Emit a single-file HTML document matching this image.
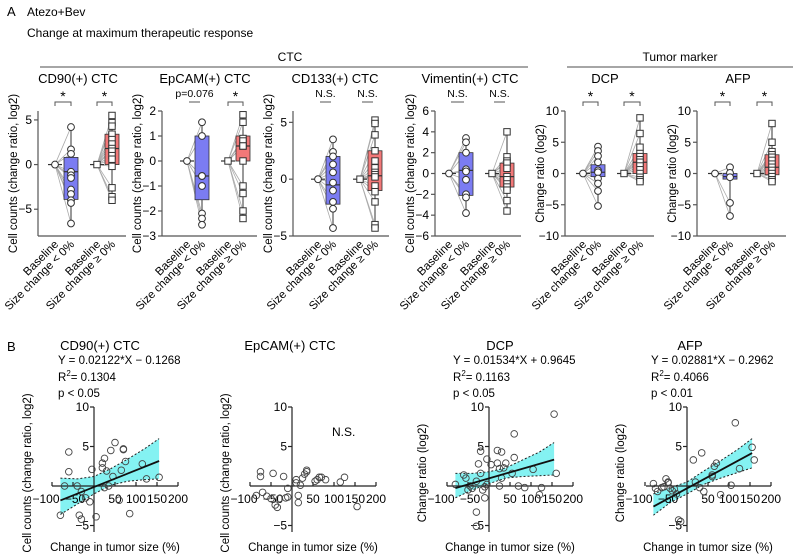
<!DOCTYPE html>
<html><head><meta charset="utf-8"><style>
body{margin:0;background:#fff}
svg{display:block;font-family:"Liberation Sans",Arial,sans-serif}
</style></head><body>
<svg id="fig" width="793" height="557" viewBox="0 0 793 557">
<text x="7" y="16" font-size="13">A</text>
<text x="27" y="16" font-size="12">Atezo+Bev</text>
<text x="27" y="37" font-size="12">Change at maximum therapeutic response</text>
<text x="290" y="61" font-size="12" text-anchor="middle">CTC</text>
<line x1="40" y1="67" x2="528" y2="67" stroke="#888" stroke-width="1.5"/>
<text x="680" y="61" font-size="12" text-anchor="middle">Tumor marker</text>
<line x1="567" y1="67" x2="793" y2="67" stroke="#888" stroke-width="1.5"/>
<text x="7" y="351" font-size="13">B</text>
</svg>
<script>
// ---- Panel A data ----
const groupLabels = ["Baseline","Size change < 0%","Baseline","Size change \u2265 0%"];
const panelTitles = ["CD90(+) CTC","EpCAM(+) CTC","CD133(+) CTC","Vimentin(+) CTC","DCP","AFP"];
const panelSig1 = ["*","p=0.076","N.S.","N.S.","*","*"];
const panelSig2 = ["*","*","N.S.","N.S.","*","*"];
const cd90G1 = [4.2,1.7,1.2,-0.8,-1.2,-1.5,-2.8,-3.3,-4,-4.3,-6.6];
const cd90G2 = [5.5,4.7,4.3,3.4,2.8,2.3,1.8,1.5,1,0.6,-0.2,-2.6,-3.6,-4];
const epcamG1 = [1.55,1,-0.6,-0.6,-1,-2.1,-2.3,-2.55];
const epcamG2 = [1.85,1.55,0.9,0.8,0.6,0.6,0,-1,-1.3,-2,-2.3];
const cd133G1 = [3.5,2.4,2,1.3,0.6,-0.3,-1,-2,-2.6,-4.3];
const cd133G2 = [5.2,4.9,3.9,2.5,1.6,1,0.6,0.4,0.2,-0.6,-1.1,-2,-4,-4.3];
const vimG1 = [3.4,3,2,0.4,0.2,-0.6,-2,-2.3,-3.8];
const vimG2 = [4,1.6,1.2,1,0.5,-0.3,-0.6,-1,-1.3,-1.6,-2.6,-3.6];
const dcpG1 = [4.3,3.6,2.8,1.8,0.5,0.2,-0.8,-1.6,-2.8,-5.2];
const dcpG2 = [8.9,6.4,4.2,3.2,2.7,2.2,1.8,1.2,0.6,0,-0.6,-1,-1.3];
const afpG1 = [1,0.1,-0.6,-4.7,-6.8];
const afpG2 = [8,5,3.5,3,2.6,2.1,1.5,1,0.5,0,-0.5,-1,-1.3];
// box stats [q1, median, q3]
const cd90Box = [[-3.9,-0.8,0.8],[0,1.8,3.4]];
const epcamBox = [[-1.55,-0.6,1],[0,0.6,1]];
const cd133Box = [[-2.2,-0.5,2],[-1,0.3,2.5]];
const vimBox = [[-2.1,0.3,2],[-1.3,-0.3,1]];
const dcpBox = [[-0.5,0.2,1.4],[0,1.8,3.2]];
const afpBox = [[-0.9,-0.5,0],[-0.2,1,3]];
const yRanges = [[-8,6],[-3,2],[-5,6],[-6,6],[-10,10],[-10,10]];
const yTicksA = [[5,0,-5],[2,1,0,-1,-2,-3],[5,0,-5],[6,4,2,0,-2,-4,-6],[10,5,0,-5,-10],[10,5,0,-5,-10]];
const yTitlesA = ["Cell counts (change ratio, log2)","Cell counts (change ratio, log2)","Cell counts (change ratio, log2)","Cell counts (change ratio, log2)","Change ratio (log2)","Change ratio (log2)"];

// ---- Panel B data ----
const bTitles = ["CD90(+) CTC","EpCAM(+) CTC","DCP","AFP"];
const bEq = ["Y = 0.02122*X \u2212 0.1268","","Y = 0.01534*X + 0.9645","Y = 0.02881*X \u2212 0.2962"];
const bR2 = ["0.1304","","0.1163","0.4066"];
const bP = ["p < 0.05","","p < 0.05","p < 0.01"];
const bSlope = [0.02122,null,0.01534,0.02881];
const bIntercept = [-0.1268,null,0.9645,-0.2962];
const bandX = [-80,-40,0,40,80,120,155];
const cd90Upper = [1.0,0.9,1.2,2.2,3.4,4.7,6.0];
const cd90Lower = [-3.6,-2.3,-1.0,0.1,0.6,0.8,0.9];
const dcpUpper = [1.6,1.6,1.8,2.3,3.3,4.3,5.5];
const dcpLower = [-1.5,-0.5,0.3,1.0,1.2,1.3,1.4];
const afpUpper = [-1.0,-0.2,0.5,1.9,3.2,4.6,6.0];
const afpLower = [-3.7,-2.1,-1.0,0.2,1.0,1.7,2.3];
const cd90X = [-80,-60,-60,-70,-40,-30,-35,-30,-20,-10,-5,5,20,25,20,30,25,35,40,45,50,60,70,70,75,65,85,115,125,155];
const cd90Y = [-3.7,4.3,1.8,0,0,-0.7,-3.7,-4.2,-1.5,-2,2.1,-3.9,2.9,3.5,2.3,1.9,-0.2,0,4.5,1.2,5.5,-1.8,4.6,4.7,3.1,2,-3.5,2.8,0.9,1.1];
const epcamX = [-75,-75,-70,-85,-60,-50,-40,-35,-45,-30,-15,-20,-10,10,10,15,15,20,25,30,35,35,55,60,65,70,80,115,125,155,-10];
const epcamY = [1.8,1.2,-0.8,-1.2,-1.3,-1.6,-2.4,-2.7,1.6,-1.6,-1.5,1.2,-1.4,0.8,0.4,-1.2,-2.1,0.1,1,1.5,2,1.8,0.6,0.8,1.1,1.1,0.8,0.5,1.1,-2.6,-0.3];
const dcpX = [-80,-60,-55,-50,-45,-40,-30,-30,-25,-20,-20,-15,-10,-10,-5,-5,5,20,20,25,25,30,30,35,40,55,60,60,70,85,105,120,125,155,160,-30];
const dcpY = [0.2,1.4,1,-0.5,0,-0.3,0.6,-3.3,2.8,4.4,1.6,-0.5,-0.1,-1.5,0.2,3.4,2.7,4.5,2.9,0,2.2,1,4.3,2.3,2.9,1.6,6.6,3.6,0,-0.2,2.1,-1.1,-0.2,9.1,1.6,-5.1];
const afpX = [-80,-75,-70,-60,-55,-50,-45,-45,-40,-35,-30,-25,-20,-15,15,20,30,35,40,60,60,65,70,80,105,115,125,155,160];
const afpY = [0.3,-0.3,-0.7,-0.2,-0.1,0.9,0.5,0.4,-0.3,-0.6,-0.4,-1,-4.3,-4.5,3.3,0.5,-0.2,4.2,-0.7,1.2,1.4,2.5,2.9,-1.1,0.1,8,2.2,4.9,3.3];
const xTicksB = [-100,-50,50,100,150,200];
const xTickLabelsB = ["\u2212100","\u221250","50","100","150","200"];
const yTicksB = [10,5,-5];

const NS = "http://www.w3.org/2000/svg";
const svg = document.getElementById("fig");
function el(tag, attrs, parent, txt){
  const e = document.createElementNS(NS, tag);
  for (const k in attrs) e.setAttribute(k, attrs[k]);
  if (txt !== undefined) e.textContent = txt;
  (parent || svg).appendChild(e);
  return e;
}

// ---------- Panel A ----------
const aAxisX = [38,162,293,435,565,697];
const aBase1 = [55,187,318,449,583,715];
const aBox1 = [71,202,333,466,598,730];
const aBase2 = [97,228,360,492,624,757];
const aBox2 = [112,243,375,507,640,772];
const aTitleX = [78,205,335,470,605,738];
const g1Data = [cd90G1,epcamG1,cd133G1,vimG1,dcpG1,afpG1];
const g2Data = [cd90G2,epcamG2,cd133G2,vimG2,dcpG2,afpG2];
const boxData = [cd90Box,epcamBox,cd133Box,vimBox,dcpBox,afpBox];
const aTop = 111, aBot = 236;

function marker(g, x, y, shape){
  let m;
  if (shape === "c") m = el("circle",{cx:x,cy:y,r:3.4,fill:"#fff",stroke:"#333","stroke-width":1},g);
  else m = el("rect",{x:x-3.2,y:y-3.2,width:6.4,height:6.4,fill:"#fff",stroke:"#333","stroke-width":1},g);
  
  
}

for (let p = 0; p < 6; p++){
  const g = el("g",{});
  
  
  const [lo, hi] = yRanges[p];
  const ys = v => aBot - (v - lo) / (hi - lo) * (aBot - aTop);
  const ax = aAxisX[p];
  const t = el("text",{x:aTitleX[p],y:83,"font-size":13,"text-anchor":"middle"},g,panelTitles[p]);
  
  
  el("line",{x1:ax,y1:Math.min(ys(Math.max(...yTicksA[p])),ys(hi)),x2:ax,y2:aBot,stroke:"#555","stroke-width":1.2},g);
  el("line",{x1:ax,y1:aBot,x2:aBox2[p]+14,y2:aBot,stroke:"#555","stroke-width":1.2},g);
  yTicksA[p].forEach(v=>{
    el("line",{x1:ax-4,y1:ys(v),x2:ax,y2:ys(v),stroke:"#555","stroke-width":1.2},g);
    const lab = el("text",{x:ax-6,y:ys(v)+4,"font-size":12,"text-anchor":"end"},g,v<0?"\u2212"+(-v):String(v));
    
    
  });
  const yt = el("text",{transform:`translate(${ax-21},${(aTop+aBot)/2}) rotate(-90)`,"font-size":11.5,"text-anchor":"middle"},g,yTitlesA[p]);
  
  
  [aBase1[p],aBox1[p],aBase2[p],aBox2[p]].forEach((x,i)=>{
    const xl = el("text",{transform:`translate(${x+4},${aBot+9}) rotate(-45)`,"font-size":11.5,"text-anchor":"end"},g,groupLabels[i]);
    
    
  });
  const groups = [[aBase1[p],aBox1[p],g1Data[p],boxData[p][0],"#7b7cf2","c",panelSig1[p]],
                  [aBase2[p],aBox2[p],g2Data[p],boxData[p][1],"#f27878","s",panelSig2[p]]];
  groups.forEach(([bx,cx,vals,bs,col,sh,sig],gi)=>{
    vals.forEach(v=>el("line",{x1:bx,y1:ys(0),x2:cx,y2:ys(v),stroke:"#aaa","stroke-width":0.8},g));
    const mx = Math.max(...vals), mn = Math.min(...vals);
    el("line",{x1:cx,y1:ys(mx),x2:cx,y2:ys(mn),stroke:"#333","stroke-width":1},g);
    const box = el("rect",{x:cx-7,y:ys(bs[2]),width:14,height:Math.max(0.5,ys(bs[0])-ys(bs[2])),fill:col,stroke:"#333","stroke-width":0.8},g);
    
    
    el("line",{x1:cx-7,y1:ys(bs[1]),x2:cx+7,y2:ys(bs[1]),stroke:"#333","stroke-width":1.2},g);
    el("line",{x1:bx-7,y1:ys(0),x2:bx+7,y2:ys(0),stroke:"#333","stroke-width":1.2},g);
    marker(g,bx,ys(0),sh);
    vals.forEach(v=>marker(g,cx,ys(v),sh));
    const brY = 102;
    if (sig === "*"){
      el("path",{d:`M${bx} ${brY+4}V${brY}H${cx}V${brY+4}`,fill:"none",stroke:"#555","stroke-width":1},g);
      const s = el("text",{x:(bx+cx)/2,y:brY-1,"font-size":14,"text-anchor":"middle"},g,"*");
      
      
    } else {
      el("line",{x1:bx+2,y1:brY,x2:cx-2,y2:brY,stroke:"#555","stroke-width":1},g);
      const s = el("text",{x:(bx+cx)/2,y:brY-5,"font-size":10.5,"text-anchor":"middle"},g,sig);
      
      
    }
  });
}

// ---------- Panel B ----------
const bAxisX = [94,292,489,687];
const bXmin = [52,250,447,646];
const bTitleX = [100,290,500,690];
const scatterX = [cd90X,epcamX,dcpX,afpX];
const scatterY = [cd90Y,epcamY,dcpY,afpY];
const bandUpper = [cd90Upper,null,dcpUpper,afpUpper];
const bandLower = [cd90Lower,null,dcpLower,afpLower];
const bY0 = 486, bPxPerY = 7.9, bPxPerX = 0.42;

for (let p = 0; p < 4; p++){
  const g = el("g",{});
  
  
  const x0 = bAxisX[p];
  const xs = v => x0 + v * bPxPerX;
  const ys = v => bY0 - v * bPxPerY;
  const t = el("text",{x:bTitleX[p],y:350,"font-size":13,"text-anchor":"middle"},g,bTitles[p]);
  
  
  if (bEq[p]){
    const tx = x0 - 36;
    const e1 = el("text",{x:tx,y:364,"font-size":11.5},g,bEq[p]);
    
    
    const r = el("text",{x:tx,y:381,"font-size":11.5},g);
    
    
    r.innerHTML = 'R<tspan dy="-5" font-size="8">2</tspan><tspan dy="5">= '+bR2[p]+'</tspan>';
    const pp = el("text",{x:tx,y:397,"font-size":11.5},g,bP[p]);
    
    
  } else {
    const ns = el("text",{x:x0+40,y:ys(6.3),"font-size":12},g,"N.S.");
    
    
  }
  if (bandUpper[p]){
    let d = bandX.map((x,i)=>(i?"L":"M")+xs(x)+" "+ys(bandUpper[p][i])).join("");
    d += bandX.slice().reverse().map((x,i)=>"L"+xs(x)+" "+ys(bandLower[p][bandX.length-1-i])).join("")+"Z";
    const band = el("path",{d:d,fill:"#6ff0f0",opacity:0.85},g);
    
    
    [bandUpper[p],bandLower[p]].forEach(arr=>{
      el("path",{d:bandX.map((x,i)=>(i?"L":"M")+xs(x)+" "+ys(arr[i])).join(""),fill:"none",stroke:"#222","stroke-width":1,"stroke-dasharray":"2,2"},g);
    });
  }
  el("line",{x1:x0,y1:ys(10),x2:x0,y2:532,stroke:"#222","stroke-width":1.2},g);
  el("line",{x1:bXmin[p],y1:bY0,x2:xs(200),y2:bY0,stroke:"#222","stroke-width":1.2},g);
  yTicksB.forEach(v=>{
    el("line",{x1:x0-4,y1:ys(v),x2:x0,y2:ys(v),stroke:"#222","stroke-width":1.2},g);
    const l = el("text",{x:x0-5,y:ys(v)+4,"font-size":12,"text-anchor":"end"},g,v<0?"\u2212"+(-v):String(v));
    
    
  });
  xTicksB.forEach((v,i)=>{
    el("line",{x1:xs(v),y1:bY0,x2:xs(v),y2:bY0-4,stroke:"#222","stroke-width":1.2},g);
    const l = el("text",{x:xs(v)+(v===-100?-6:(v===-50?2:0)),y:bY0+17,"font-size":12,"text-anchor":"middle"},g,xTickLabelsB[i]);
    
    
  });
  const xt = el("text",{x:x0+21,y:551,"font-size":11.5,"text-anchor":"middle"},g,"Change in tumor size (%)");
  
  
  const yt = el("text",{transform:`translate(${x0-63},${473}) rotate(-90)`,"font-size":11.5,"text-anchor":"middle"},g,p<2?"Cell counts (change ratio, log2)":"Change ratio (log2)");
  
  
  scatterX[p].forEach((x,i)=>{
    const c = el("circle",{cx:xs(x),cy:ys(scatterY[p][i]),r:3.3,fill:"none",stroke:"#444","stroke-width":0.9},g);
    
    
  });
  if (bSlope[p] !== null){
    const rl = el("line",{x1:xs(-80),y1:ys(bSlope[p]*-80+bIntercept[p]),x2:xs(155),y2:ys(bSlope[p]*155+bIntercept[p]),stroke:"#111","stroke-width":1.8},g);
    
    
  }
}
</script>
</body></html>
